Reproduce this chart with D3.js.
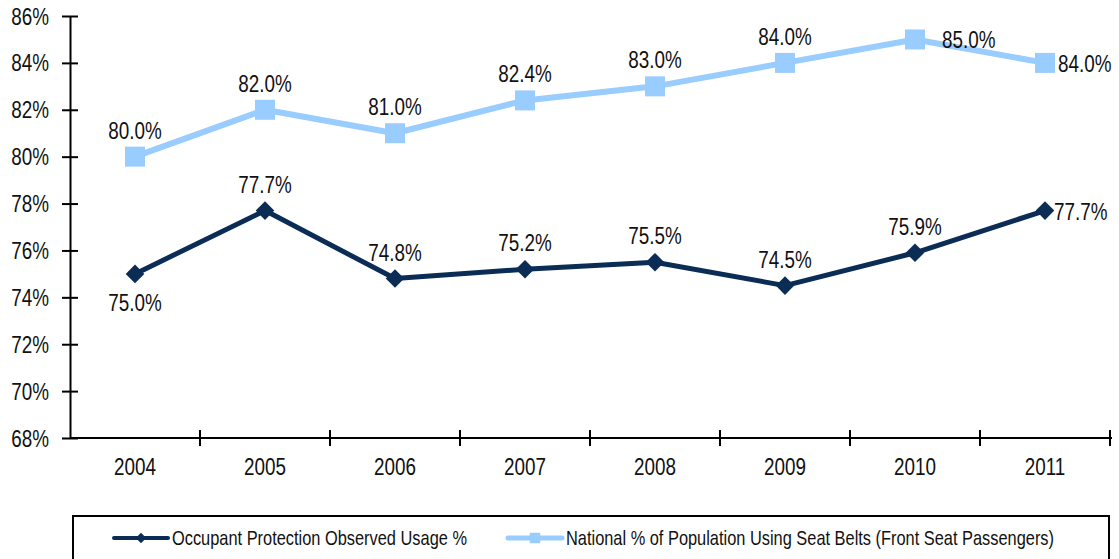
<!DOCTYPE html>
<html>
<head>
<meta charset="utf-8">
<script src="https://cdn.jsdelivr.net/npm/d3@7"></script>
<style>
  body { margin: 0; background: #fff; }
  svg text { font-family: "Liberation Sans Narrow", "Arial Narrow", "Liberation Sans", sans-serif; fill: #111; }
</style>
</head>
<body>
<svg id="chart" width="1119" height="559"></svg>
<script>
const years = ['2004', '2005', '2006', '2007', '2008', '2009', '2010', '2011']
const occupantUsage = [75.0, 77.7, 74.8, 75.2, 75.5, 74.5, 75.9, 77.7]
const nationalUsage = [80.0, 82.0, 81.0, 82.4, 83.0, 84.0, 85.0, 84.0]
const yTicks = [68, 70, 72, 74, 76, 78, 80, 82, 84, 86]
const seriesNames = ['Occupant Protection Observed Usage %', 'National % of Population Using Seat Belts (Front Seat Passengers)']

// where each label sits relative to its point
const occupantLabelPos = ['below', 'above', 'above', 'above', 'above', 'above', 'above', 'right']
const nationalLabelPos = ['above', 'above', 'above', 'above', 'above', 'above', 'right', 'right']

const navy = '#0b2d55'
const lightBlue = '#99ccff'
// no narrow font installed, so squeeze the regular one
const squeeze = 0.82

let svg = d3.select('#chart')

// put a text at (px, py) and squeeze it horizontally
function narrowText (sel, px, py) {
    sel.attr('x', 0).attr('y', 0)
        .attr('transform', (d, i) => 'translate(' + (typeof px === 'function' ? px(d, i) : px) + ',' +
            (typeof py === 'function' ? py(d, i) : py) + ') scale(' + squeeze + ',1)')
}

let x = d3.scaleBand().domain(years).range([70, 1110])
let y = d3.scaleLinear().domain([68, 86]).range([438, 16])

// y axis
let yAxis = svg.append('g')
    .attr('transform', 'translate(70,0)')
    .call(d3.axisLeft(y).tickValues(yTicks).tickFormat(d => d + '%').tickSizeInner(8).tickSizeOuter(0))
yAxis.select('.domain').attr('stroke', '#000').attr('stroke-width', 2)
yAxis.selectAll('.tick line').attr('stroke', '#000').attr('stroke-width', 2).attr('x2', 8).attr('x1', -8)
yAxis.selectAll('.tick text').attr('font-size', 23).attr('dy', null)
narrowText(yAxis.selectAll('.tick text'), -21, 8)

// x axis, ticks sit between categories
let xAxisG = svg.append('g').attr('transform', 'translate(0,' + y(68) + ')')
xAxisG.append('line').attr('x1', 70).attr('x2', 1112).attr('stroke', '#000').attr('stroke-width', 2)
let bounds = years.map(d => x(d)).concat([x.range()[1]])
xAxisG.selectAll('.xtick')
    .data(bounds.slice(1))
    .enter()
    .append('line')
    .attr('x1', d => d).attr('x2', d => d)
    .attr('y1', -8).attr('y2', 8)
    .attr('stroke', '#000').attr('stroke-width', 2)
let yearLabels = xAxisG.selectAll('.xlabel')
    .data(years)
    .enter()
    .append('text')
    .attr('text-anchor', 'middle')
    .attr('font-size', 23)
    .text(d => d)
narrowText(yearLabels, d => x(d) + x.bandwidth() / 2, 37)

let cx = d => x(d) + x.bandwidth() / 2

function drawSeries (values, color, width, marker, labelPos, rightOffsets) {
    let line = d3.line()
        .x((d, i) => cx(years[i]))
        .y(d => y(d))
    svg.append('path')
        .datum(values)
        .attr('d', line)
        .attr('fill', 'none')
        .attr('stroke', color)
        .attr('stroke-width', width)
        .attr('stroke-linejoin', 'round')

    svg.selectAll(null)
        .data(values)
        .enter()
        .append('path')
        .attr('d', d3.symbol().type(marker === 'square' ? d3.symbolSquare : d3.symbolDiamond2).size(marker === 'square' ? 400 : 220))
        .attr('transform', (d, i) => 'translate(' + cx(years[i]) + ',' + y(d) + ')')
        .attr('fill', color)

    let labels = svg.selectAll(null)
        .data(values)
        .enter()
        .append('text')
        .attr('font-size', 23)
        .attr('text-anchor', (d, i) => labelPos[i] === 'right' ? 'start' : 'middle')
        .text(d => d.toFixed(1) + '%')
    narrowText(labels,
        (d, i) => labelPos[i] === 'right' ? cx(years[i]) + rightOffsets[i] : cx(years[i]),
        (d, i) => {
            if (labelPos[i] === 'above') return y(d) - 18
            if (labelPos[i] === 'below') return y(d) + 37
            return y(d) + 9
        })
}

drawSeries(nationalUsage, lightBlue, 6, 'square', nationalLabelPos, [0, 0, 0, 0, 0, 0, 27, 13])
drawSeries(occupantUsage, navy, 5, 'diamond', occupantLabelPos, [0, 0, 0, 0, 0, 0, 0, 9])

// legend
let legend = svg.append('g')
legend.append('rect')
    .attr('x', 73).attr('y', 516).attr('width', 1036).attr('height', 44)
    .attr('fill', '#fff').attr('stroke', '#000').attr('stroke-width', 2)

let legendItems = [
    { name: seriesNames[0], color: navy, width: 4, marker: 'diamond', x0: 114 },
    { name: seriesNames[1], color: lightBlue, width: 5, marker: 'square', x0: 508 }
]
legendItems.forEach(item => {
    let g = legend.append('g')
    g.append('line')
        .attr('x1', item.x0).attr('x2', item.x0 + 54)
        .attr('y1', 538).attr('y2', 538)
        .attr('stroke', item.color).attr('stroke-width', item.width).attr('stroke-linecap', 'round')
    g.append('path')
        .attr('d', d3.symbol().type(item.marker === 'square' ? d3.symbolSquare : d3.symbolDiamond2).size(item.marker === 'square' ? 110 : 70))
        .attr('transform', 'translate(' + (item.x0 + 27) + ',538)')
        .attr('fill', item.color)
    let t = g.append('text')
        .attr('font-size', 20)
        .text(item.name)
    narrowText(t, item.x0 + 58, 545)
})
</script>
</body>
</html>
